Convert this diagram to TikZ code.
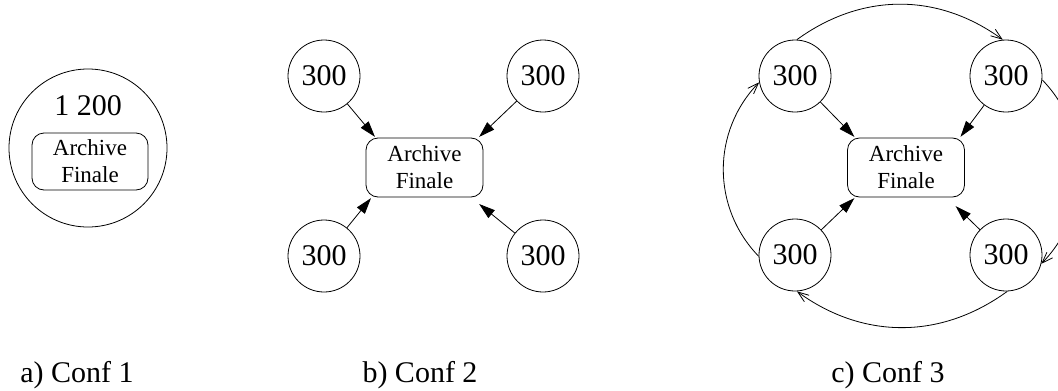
\documentclass[tikz,border=0pt]{standalone}
\usepackage{fontspec}
\setmainfont{Liberation Serif}
\usetikzlibrary{arrows.meta}

\begin{document}
\begin{tikzpicture}[x=1pt,y=1pt,node distance=180pt,>={Triangle[length=16pt,width=10pt]}]

		\tikzstyle{every node}=[font=\fontsize{30}{36}\selectfont]
		\tikzstyle{site}=[circle,draw,line width=0.8pt,minimum size=72pt,inner sep=0pt]
		\tikzstyle{archive}=[rectangle,draw,line width=0.8pt,rounded corners=12pt,minimum width=117pt,minimum height=59pt,inner sep=0pt,align=center,font=\fontsize{23}{27}\selectfont]
		\tikzstyle{feed}=[->,line width=0.8pt,shorten >=1pt]
		\tikzstyle{pass}=[-{Straight Barb[length=11pt,width=8pt]},line width=0.8pt]

		\useasboundingbox (0,0) rectangle (1058,-391);

		% a) Conf 1
		\node (a_site) [circle,draw,line width=0.8pt,minimum size=158pt,inner sep=0pt] at (88,-148) {};
		\node (a_size) [anchor=base] at (88,-115) {1 200};
		\node (a_arch) [archive,minimum width=116pt,minimum height=57pt] at (90,-161.5) {Archive\\Finale};
		\node (a_label) [anchor=base] at (77,-382) {a) Conf 1};

		% b) Conf 2
		\node (b_1) [site] at (324,-76) {300};
		\node (b_2) [site,node distance=219pt,right of=b_1] {300};
		\node (b_3) [site,below of=b_1] {300};
		\node (b_4) [site,below of=b_2] {300};
		\node (b_arch) [archive] at (424.5,-167.5) {Archive\\Finale};
		\node (b_label) [anchor=base] at (420,-382) {b) Conf 2};

		\path[feed] (b_1) edge ([xshift=10pt]b_arch.north west)
					(b_2) edge ([xshift=-5pt]b_arch.north east)
					(b_3) edge ([xshift=6pt]b_arch.south west)
					(b_4) edge ([xshift=-5pt,yshift=-6pt]b_arch.south east);

		% c) Conf 3
		\node (c_1) [site] at (795,-76) {300};
		\node (c_2) [site,node distance=211pt,right of=c_1] {300};
		\node (c_3) [site,node distance=179pt,below of=c_1] {300};
		\node (c_4) [site,node distance=179pt,below of=c_2] {300};
		\node (c_arch) [archive] at (906,-167.5) {Archive\\Finale};
		\node (c_label) [anchor=base] at (888,-382) {c) Conf 3};

		\path[feed] (c_1) edge ([xshift=8pt]c_arch.north west)
					(c_2) edge ([xshift=-5pt]c_arch.north east)
					(c_3) edge ([xshift=8pt]c_arch.south west)
					(c_4) edge ([xshift=-10pt,yshift=-8pt]c_arch.south east);

		\path[pass] (c_1.87) edge[out=36,in=144] (c_2.95)
					(c_2.354) edge[out=-46,in=46] (c_4.346)
					(c_4.272) edge[out=216,in=324] (c_3.273)
					(c_3.182) edge[out=134,in=226] (c_1.190);
		\end{tikzpicture}
\end{document}
